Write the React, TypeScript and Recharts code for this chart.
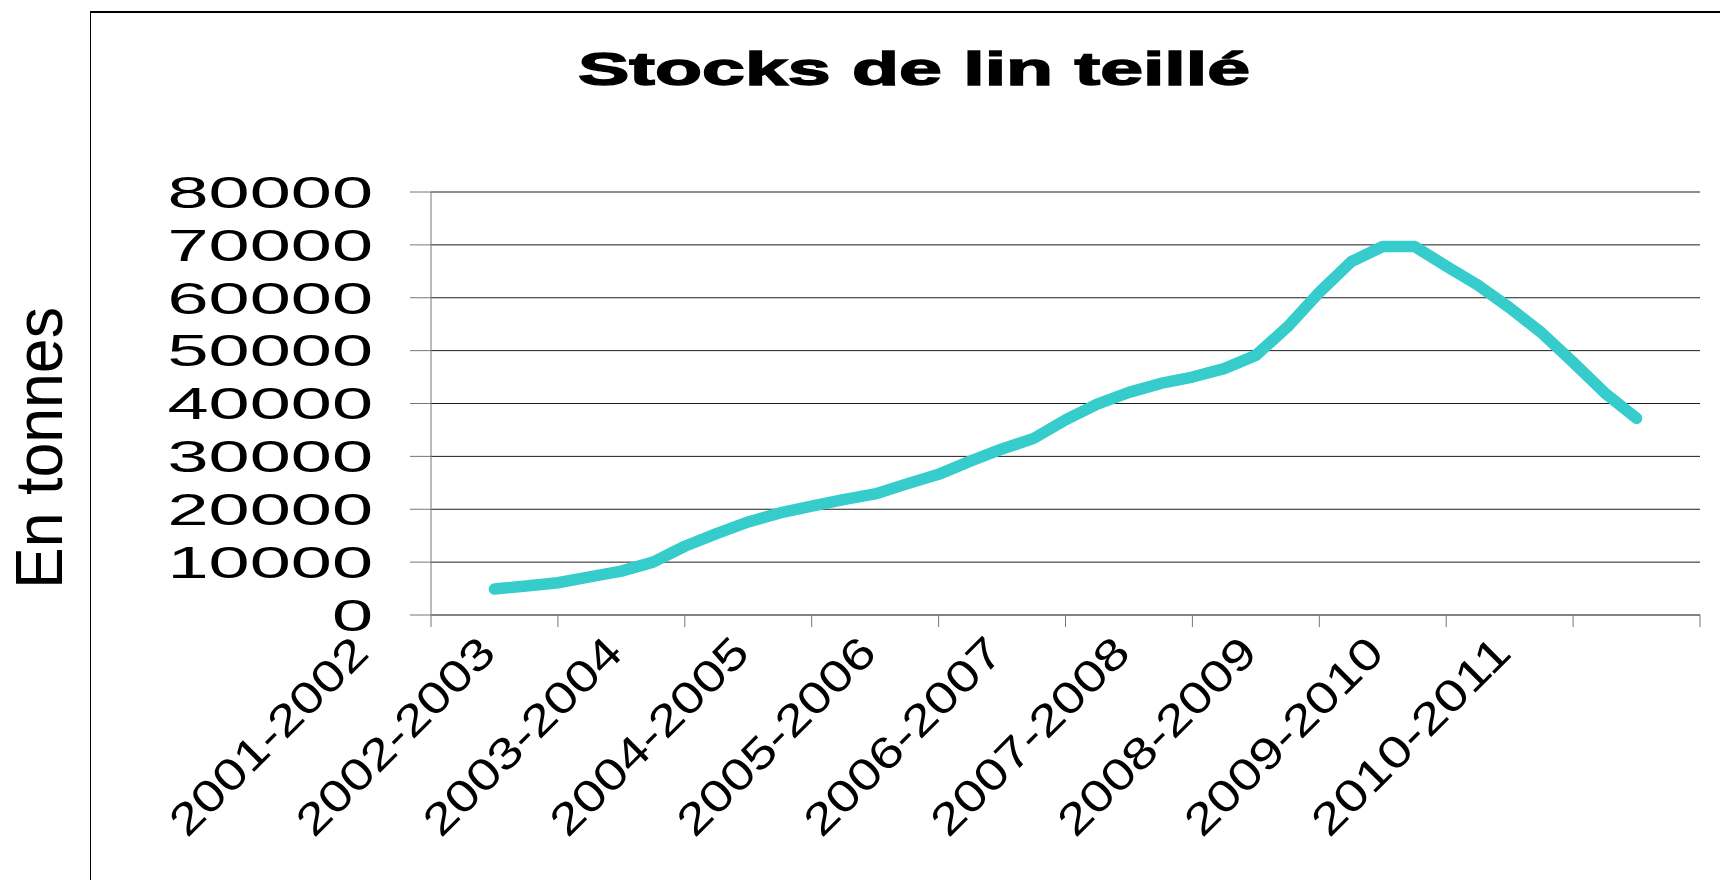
import { LineChart, Line, XAxis, YAxis, CartesianGrid } from 'recharts';

// campaign labels on the category axis
const seasons = [
  '2001-2002', '2002-2003', '2003-2004', '2004-2005', '2005-2006',
  '2006-2007', '2007-2008', '2008-2009', '2009-2010', '2010-2011',
];

// quarterly stock readings (tonnes), from the middle of 2001-2002 to the middle of 2010-2011
const stocks = [
  4900, 5500, 6100, 7200, 8300, 10000, 13000, 15400, 17600, 19300,
  20600, 21800, 22900, 24800, 26600, 29100, 31400, 33400, 36900, 39900,
  42100, 43800, 45000, 46600, 49100, 54500, 61000, 66800, 69700, 69700,
  66000, 62400, 58100, 53400, 47800, 42000, 37200,
];

const yTicks = [0, 10000, 20000, 30000, 40000, 50000, 60000, 70000, 80000];
const seasonTicks = [0, 1, 2, 3, 4, 5, 6, 7, 8, 9, 10];

const data = stocks.map((v, i) => ({ pos: 0.5 + i / 4, stock: v }));

const FONT = '"Liberation Sans", Arial, sans-serif';

const YTick = ({ x, y, payload }: any) => (
  <g transform={`translate(${x},${y}) scale(1.68,1)`}>
    <text textAnchor="end" dy="0.36em" fontSize={44} fontFamily={FONT} fill="#000">
      {payload.value}
    </text>
  </g>
);

// labels sit one half-category left of their tick, slanted at 45 degrees
const XTick = ({ x, y, payload }: any) => {
  const label = seasons[payload.value];
  if (!label) return null;
  return (
    <g transform={`translate(${x - 60},${y + 28}) rotate(-45)`}>
      <text
        textAnchor="end"
        fontSize={44}
        fontFamily={FONT}
        fill="#000"
        textLength={260}
        lengthAdjust="spacingAndGlyphs"
      >
        {label}
      </text>
    </g>
  );
};

export default function App() {
  return (
    <div style={{ position: 'absolute', left: 0, top: 0, width: 1720, height: 880, background: '#fff' }}>
      <LineChart
        width={1720}
        height={880}
        data={data}
        margin={{ top: 192, right: 20, bottom: 235, left: 371 }}
      >
        <CartesianGrid horizontal vertical={false} stroke="#1e1e1e" />
        <XAxis
          dataKey="pos"
          type="number"
          domain={[0, 10]}
          ticks={seasonTicks}
          interval={0}
          height={30}
          tickSize={12}
          tickMargin={0}
          axisLine={{ stroke: '#777' }}
          tickLine={{ stroke: '#777' }}
          tick={<XTick />}
        />
        <YAxis
          type="number"
          domain={[0, 80000]}
          ticks={yTicks}
          interval={0}
          width={60}
          tickSize={21}
          tickMargin={37}
          axisLine={{ stroke: '#777' }}
          tickLine={{ stroke: '#777' }}
          tick={<YTick />}
        />
        <Line
          type="linear"
          dataKey="stock"
          stroke="#36cccc"
          strokeWidth={11.5}
          strokeLinecap="round"
          strokeLinejoin="round"
          dot={false}
          activeDot={false}
          isAnimationActive={false}
        />
      </LineChart>
      <svg
        width={1720}
        height={880}
        style={{ position: 'absolute', left: 0, top: 0, pointerEvents: 'none' }}
      >
        <line x1={90} y1={12} x2={1720} y2={12} stroke="#000" strokeWidth={2} />
        <line x1={90.5} y1={11} x2={90.5} y2={880} stroke="#000" strokeWidth={1} />
        <text
          x={914}
          y={85}
          textAnchor="middle"
          fontSize={46}
          fontWeight="bold"
          fontFamily={FONT}
          stroke="#000"
          strokeWidth={1.4}
          textLength={672}
          lengthAdjust="spacingAndGlyphs"
        >
          Stocks de lin teillé
        </text>
        <text
          transform="translate(62,448) rotate(-90)"
          textAnchor="middle"
          fontSize={67}
          fontFamily={FONT}
          textLength={282}
          lengthAdjust="spacingAndGlyphs"
        >
          En tonnes
        </text>
      </svg>
    </div>
  );
}
